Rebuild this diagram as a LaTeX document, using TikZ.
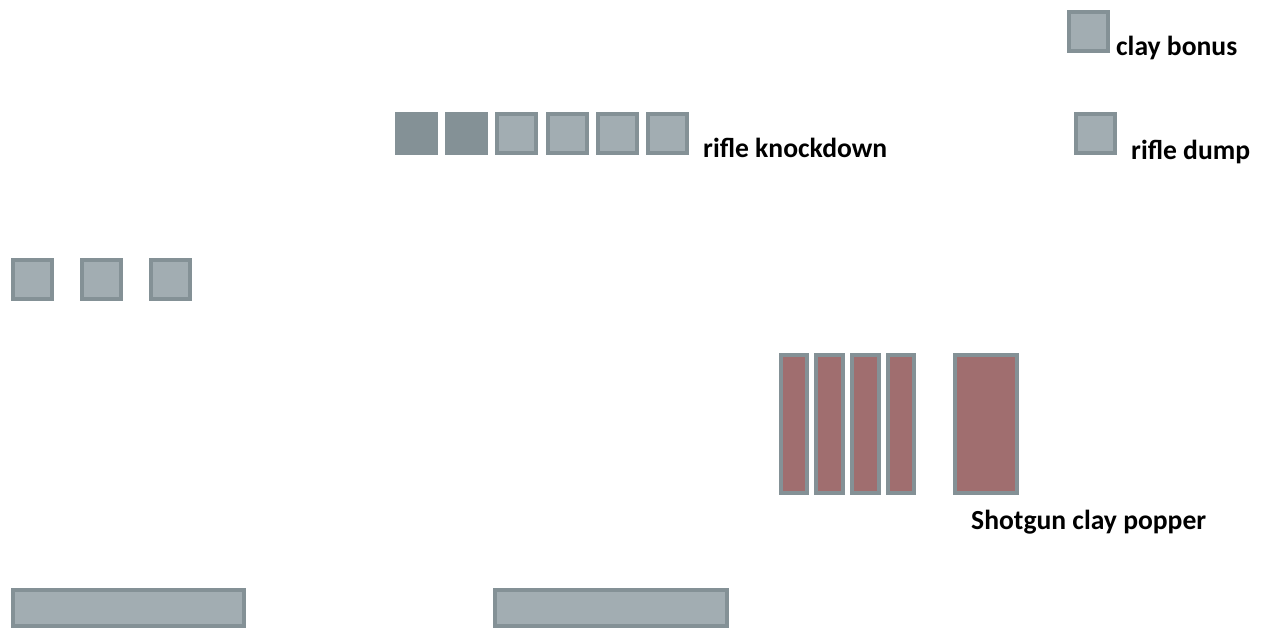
\documentclass[tikz,border=0pt]{standalone}
\usepackage{fontspec}
\setmainfont{Carlito}
\definecolor{edgegray}{HTML}{849196}
\definecolor{fillgray}{HTML}{A2ADB2}
\definecolor{clayred}{HTML}{A06E6F}
\begin{document}
\begin{tikzpicture}[x=1pt,y=1pt,
  tgt/.style={draw=edgegray, line width=4pt, fill=fillgray, inner sep=0pt, minimum width=39pt, minimum height=39pt},
  tgtdark/.style={tgt, fill=edgegray},
  clay/.style={tgt, fill=clayred, minimum height=138pt},
  lbl/.style={font=\bfseries\fontsize{27.6}{30}\selectfont, anchor=base west, inner sep=0pt}]
\useasboundingbox (0,0) rectangle (1262,-629);
% rifle knockdown
\node[tgtdark] (k1) at (416.5,-133.5) {};
\node[tgtdark] (k2) at (466.5,-133.5) {};
\node[tgt] (k3) at (516.5,-133.5) {};
\node[tgt] (k4) at (567,-133.5) {};
\node[tgt] (k5) at (617.5,-133.5) {};
\node[tgt] (k6) at (667.5,-133.5) {};
\node[lbl] (lk) at (703,-157) {rifle knockdown};
% clay bonus
\node[tgt] (cb) at (1088.5,-31) {};
\node[lbl] (lcb) at (1116,-55) {clay bonus};
% rifle dump
\node[tgt] (rd) at (1095.5,-133.5) {};
\node[lbl] (lrd) at (1131,-159) {rifle dump};
% three targets
\node[tgt] (t1) at (32.5,-279.5) {};
\node[tgt] (t2) at (101.5,-279.5) {};
\node[tgt] (t3) at (170.5,-279.5) {};
% shotgun clay popper
\node[clay, minimum width=26pt] (s1) at (794,-424) {};
\node[clay, minimum width=27pt] (s2) at (829.5,-424) {};
\node[clay, minimum width=27pt] (s3) at (865.5,-424) {};
\node[clay, minimum width=26pt] (s4) at (901,-424) {};
\node[clay, minimum width=62pt] (s5) at (986,-424) {};
\node[lbl] (ls) at (971,-529) {Shotgun clay popper};
% bottom bars
\node[tgt, minimum width=231pt, minimum height=36pt] (b1) at (128.5,-608) {};
\node[tgt, minimum width=232pt, minimum height=36pt] (b2) at (611,-608) {};
\end{tikzpicture}
\end{document}
